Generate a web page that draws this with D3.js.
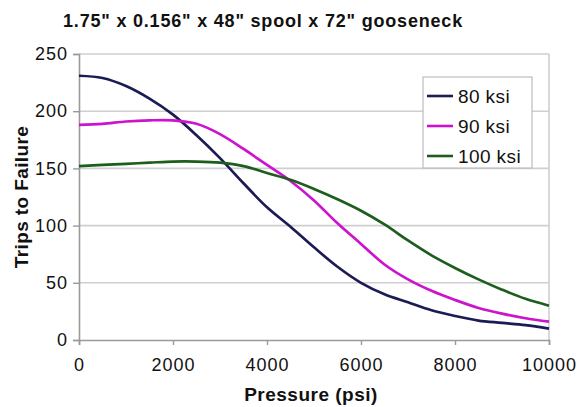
<!DOCTYPE html>
<html>
<head>
<meta charset="utf-8">
<script src="https://cdn.jsdelivr.net/npm/d3@7"></script>
<style>
  html, body { margin: 0; padding: 0; background: #fff; }
  svg { display: block; font-family: Arial, "Liberation Sans", sans-serif; }
</style>
</head>
<body>
<svg id="chart" width="580" height="407"></svg>
<script>
const pressure = [0,500,1000,1500,2000,2500,3000,3500,4000,4500,5000,5500,6000,6500,7000,7500,8000,8500,9000,9500,10000];
const trips80  = [231,229,222,211,197,179,159,137,116,99,81,64,50,40,33,26,21,17,15,13,10];
const trips90  = [188,189,191,192,192,189,180,167,153,139,122,102,84,66,53,43,35,28,23,19,16];
const trips100 = [152,153,154,155,156,156,155,152,146,140,132,123,113,101,87,74,63,53,44,36,30];
const seriesNames = ["80 ksi", "90 ksi", "100 ksi"];
const seriesColors = ["#1b1b55", "#cc14cc", "#1d5e1d"];
const xTicks = [0,2000,4000,6000,8000,10000];
const yTicks = [0,50,100,150,200,250];
const titleText = '1.75" x 0.156" x 48" spool x 72" gooseneck';
const xTitle = "Pressure (psi)";
const yTitle = "Trips to Failure";

const svg = d3.select("#chart");
const pL = 79, pR = 549, pT = 54, pB = 340;

const x = d3.scaleLinear().domain([0, 10000]).range([pL, pR]);
const y = d3.scaleLinear().domain([0, 250]).range([pB, pT]);

// gridlines
svg.append("g")
  .selectAll("line").data(yTicks.filter(d => d > 0)).join("line")
  .attr("x1", pL).attr("x2", pR)
  .attr("y1", d => y(d)).attr("y2", d => y(d))
  .attr("stroke", "#cfcfcf").attr("stroke-width", 1.6);

// right border
svg.append("line")
  .attr("x1", pR).attr("x2", pR).attr("y1", pT).attr("y2", pB)
  .attr("stroke", "#cfcfcf").attr("stroke-width", 1.6);

// axes
const yAxis = d3.axisLeft(y).tickValues(yTicks).tickSize(6).tickPadding(5).tickFormat(d3.format("d"));
const gy = svg.append("g").attr("transform", `translate(${pL},0)`).call(yAxis);
const xAxis = d3.axisBottom(x).tickValues(xTicks).tickSize(5).tickPadding(13).tickFormat(d3.format("d"));
const gx = svg.append("g").attr("transform", `translate(0,${pB})`).call(xAxis);

[gx, gy].forEach(g => {
  g.select(".domain").attr("stroke", "#9a9a9a").attr("stroke-width", 1.6);
  g.selectAll(".tick line").attr("stroke", "#9a9a9a").attr("stroke-width", 1.4);
  g.selectAll(".tick text").attr("fill", "#111").style("font-size", "18px")
    .style("letter-spacing", "1px").style("font-family", "Arial, 'Liberation Sans', sans-serif");
});

// lines
const line = d3.line().x((d, i) => x(pressure[i])).y(d => y(d)).curve(d3.curveCatmullRom.alpha(0.5));
const seriesData = [trips80, trips90, trips100];
svg.append("g").selectAll("path").data(seriesData).join("path")
  .attr("d", d => line(d))
  .attr("fill", "none")
  .attr("stroke", (d, i) => seriesColors[i])
  .attr("stroke-width", 2.7)
  .attr("stroke-linejoin", "round");

// title
svg.append("text").attr("x", 263).attr("y", 27).attr("text-anchor", "middle")
  .style("font-size", "18px").style("font-weight", "bold").style("letter-spacing", "0.8px")
  .attr("fill", "#111").text(titleText);

// x title
svg.append("text").attr("x", 311).attr("y", 401).attr("text-anchor", "middle")
  .style("font-size", "19px").style("font-weight", "bold").style("letter-spacing", "0.5px")
  .attr("fill", "#111").text(xTitle);

// y title
svg.append("text").attr("transform", `translate(28,${(pT + pB) / 2}) rotate(-90)`)
  .attr("text-anchor", "middle")
  .style("font-size", "19px").style("font-weight", "bold").style("letter-spacing", "0.4px")
  .attr("fill", "#111").text(yTitle);

// legend
const lg = svg.append("g").attr("transform", "translate(423,77)");
lg.append("rect").attr("x", 0).attr("y", 0).attr("width", 109).attr("height", 91)
  .attr("fill", "#fff").attr("stroke", "#bdbdbd").attr("stroke-width", 1.2);
const items = lg.selectAll("g.item").data(seriesNames).join("g")
  .attr("transform", (d, i) => `translate(0,${19 + i * 30})`);
items.append("line").attr("x1", 4).attr("x2", 30).attr("y1", 0).attr("y2", 0)
  .attr("stroke", (d, i) => seriesColors[i]).attr("stroke-width", 2.6);
items.append("text").attr("x", 35).attr("y", 7)
  .style("font-size", "19px").style("letter-spacing", "0.4px").attr("fill", "#111").text(d => d);
</script>
</body>
</html>
